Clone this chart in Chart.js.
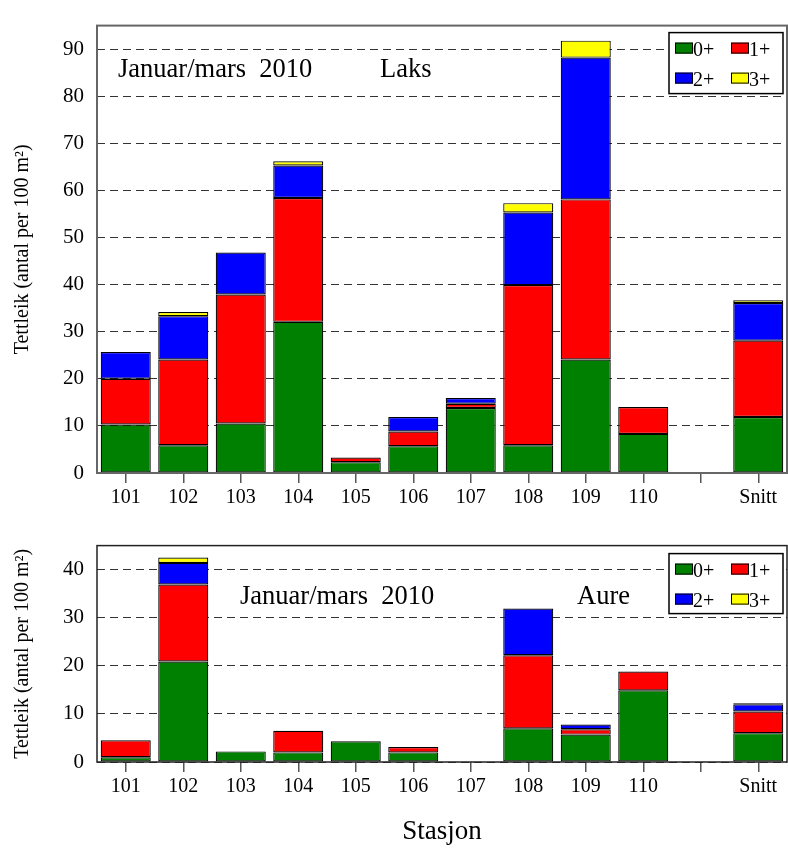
<!DOCTYPE html>
<html>
<head>
<meta charset="utf-8">
<script src="https://cdn.jsdelivr.net/npm/chart.js@4"></script>
<style>
html,body{margin:0;padding:0;background:#fff;}
#wrap{position:relative;width:788px;height:848px;overflow:hidden;}
.box{position:absolute;left:0;width:788px;}
</style>
</head>
<body>
<div id="wrap">
  <div class="box" style="top:0;height:520px;"><canvas id="c1" width="788" height="520"></canvas></div>
  <div class="box" style="top:520px;height:328px;"><canvas id="c2" width="788" height="328"></canvas></div>
</div>
<script>
// ---- data ----
const categories = ['101','102','103','104','105','106','107','108','109','110','','Snitt'];
const ageClasses = ['0+','1+','2+','3+'];
const ageColors = ['#008000','#ff0000','#0000ff','#ffff00'];

const laks0 = [10.3, 5.9, 10.5, 32.1, 2.3, 5.7, 13.8, 5.9, 24.1, 8.3, null, 11.9];
const laks1 = [9.7, 18.2, 27.4, 26.3, 1.0, 3.1, 0.9, 34.0, 34.0, 5.7, null, 16.2];
const laks2 = [5.7, 9.2, 8.9, 6.9, null, 3.1, 1.2, 15.4, 30.1, null, null, 8.0];
const laks3 = [null, 0.9, null, 0.9, null, null, null, 2.0, 3.6, null, null, 0.6];

const aure0 = [1.0, 20.9, 2.2, 2.0, 4.3, 2.0, 0.1, 7.0, 5.7, 14.9, null, 6.0];
const aure1 = [3.5, 16.0, null, 4.5, null, 1.1, null, 15.2, 1.1, 3.9, null, 4.5];
const aure2 = [null, 4.5, null, null, null, null, null, 9.7, 1.0, null, null, 1.5];
const aure3 = [null, 1.1, null, null, null, null, null, null, null, null, null, 0.2];

const yTicksLaks = [0,10,20,30,40,50,60,70,80,90];
const yTicksAure = [0,10,20,30,40];
const yMaxLaks = 95;
const yMaxAure = 45;

const yTitle = 'Tettleik (antal per 100 m²)';
const xTitle = 'Stasjon';
const periodText = 'Januar/mars  2010';
const speciesLaks = 'Laks';
const speciesAure = 'Aure';

const FONT = '"Liberation Serif", "Times New Roman", serif';

function makeDatasets(series){
  return series.map((d,i)=>({
    label: ageClasses[i],
    data: d,
    backgroundColor: ageColors[i],
    borderColor: '#000',
    borderWidth: 1.2,
    borderSkipped: false,
    barPercentage: 0.87,
    categoryPercentage: 1.0
  }));
}

const framePlugin = {
  id: 'frame',
  afterDraw(chart, args, opts){
    const {ctx, chartArea:a} = chart;
    ctx.save();
    // annotations
    ctx.fillStyle = '#000';
    ctx.textBaseline = 'alphabetic';
    ctx.textAlign = 'left';
    (opts.texts||[]).forEach(t=>{
      ctx.font = t.size + 'px ' + FONT;
      ctx.fillText(t.text, t.x, t.y);
    });
    // frame
    ctx.strokeStyle = opts.frameColor || '#666';
    ctx.lineWidth = opts.frameWidth || 2;
    ctx.strokeRect(a.left, a.top, a.right - a.left, a.bottom - a.top);
    // legend
    const L = opts.legend;
    if (L){
      const bx = a.right - L.rightGap - L.w, by = a.top + L.topGap;
      ctx.fillStyle = '#fff';
      ctx.fillRect(bx, by, L.w, L.h);
      ctx.strokeStyle = '#000';
      ctx.lineWidth = 1.5;
      ctx.strokeRect(bx, by, L.w, L.h);
      ctx.font = '20px ' + FONT;
      chart.data.datasets.forEach((ds,i)=>{
        const col = i % 2, row = Math.floor(i/2);
        const sx = bx + 6 + col*56, sy = by + 10 + row*30;
        ctx.fillStyle = ds.backgroundColor;
        ctx.fillRect(sx, sy, 18, 11);
        ctx.strokeStyle = '#000';
        ctx.lineWidth = 1;
        ctx.strokeRect(sx+0.5, sy+0.5, 17, 10);
        ctx.fillStyle = '#000';
        ctx.fillText(ds.label, sx + 18, sy + 13);
      });
    }
    ctx.restore();
  }
};

function makeChart(id, series, yMax, yTicks, cfg){
  return new Chart(document.getElementById(id), {
    type: 'bar',
    data: { labels: categories, datasets: makeDatasets(series) },
    options: {
      responsive: false,
      animation: false,
      devicePixelRatio: 1,
      layout: { padding: { top: cfg.padTop, right: 1, left: 0, bottom: 0 } },
      plugins: {
        legend: { display: false },
        tooltip: { enabled: false },
        frame: cfg.frame
      },
      scales: {
        x: {
          stacked: true,
          offset: true,
          grid: { display: true, drawOnChartArea: false, drawTicks: true, tickLength: 10, color: '#555', offset: false, lineWidth: 1.5 },
          border: { display: false },
          ticks: { color: '#000', font: { family: FONT, size: 20 }, padding: 3, maxRotation: 0, autoSkip: false },
          title: cfg.xTitle ? { display: true, text: xTitle, color: '#000', font: { family: FONT, size: 27 }, padding: { top: 0, bottom: 0 } } : { display: false },
          afterFit(scale){ scale.height = cfg.xHeight; }
        },
        y: {
          stacked: true,
          min: 0,
          max: yMax,
          afterBuildTicks(scale){ scale.ticks = yTicks.map(v=>({value:v})); },
          grid: { color: '#333', lineWidth: 1, drawTicks: false },
          border: { display: false, dash: [8,5] },
          ticks: { color: '#000', font: { family: FONT, size: 21 }, padding: 13 },
          title: { display: true, text: yTitle, color: '#000', font: { family: FONT, size: 20 }, padding: { top: 11, bottom: 0 } },
          afterFit(scale){ scale.width = 97; }
        }
      }
    },
    plugins: [framePlugin]
  });
}

makeChart('c1', [laks0, laks1, laks2, laks3], yMaxLaks, yTicksLaks, {
  padTop: 15, xHeight: 47, xTitle: false,
  frame: {
    frameColor: '#666', frameWidth: 2,
    legend: { w: 114, h: 61, rightGap: 4, topGap: 7 },
    texts: [
      { text: periodText, x: 118, y: 77, size: 26.5 },
      { text: speciesLaks, x: 380, y: 77, size: 26.5 }
    ]
  }
});

makeChart('c2', [aure0, aure1, aure2, aure3], yMaxAure, yTicksAure, {
  padTop: 25, xHeight: 86, xTitle: true,
  frame: {
    frameColor: '#222', frameWidth: 1.5,
    legend: { w: 114, h: 60, rightGap: 4, topGap: 8 },
    texts: [
      { text: periodText, x: 240, y: 84, size: 26.5 },
      { text: speciesAure, x: 577, y: 84, size: 26.5 }
    ]
  }
});
</script>
</body>
</html>
